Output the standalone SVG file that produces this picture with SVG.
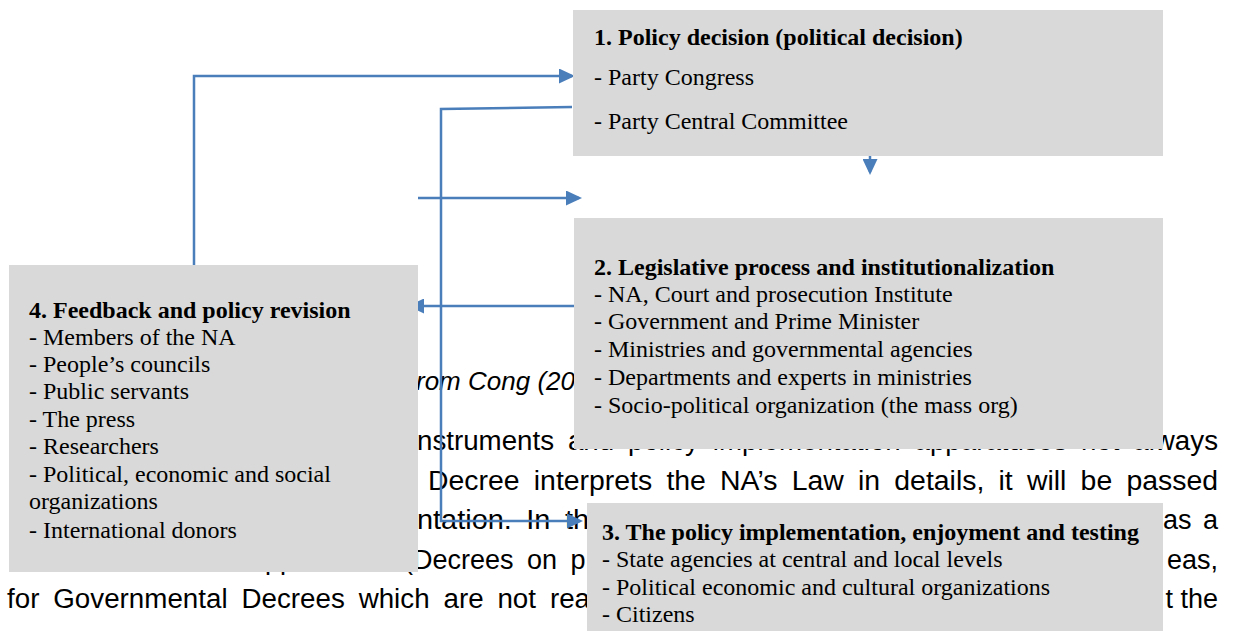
<svg xmlns="http://www.w3.org/2000/svg" width="1235" height="631" viewBox="0 0 1235 631">
  <style>
    .doc { font-family: "Liberation Sans", Arial, sans-serif; font-size: 27px; fill: #000; }
    .cap { font-style: italic; font-size: 26px; }
    .box { fill: #d9d9d9; }
    .bt { font-family: "Liberation Serif", "Times New Roman", serif; font-size: 24px; fill: #000; }
    .hd { font-weight: bold; }
    .conn { fill: none; stroke: #4a7ebb; stroke-width: 2.5; marker-end: url(#arrow); }
  </style>
  <defs>
    <marker id="arrow" viewBox="0 0 16 15" refX="13" refY="7.5" markerWidth="16" markerHeight="15" markerUnits="userSpaceOnUse" orient="auto">
      <path d="M0,0 L16,7.5 L0,15 z" fill="#4a7ebb"/>
    </marker>
  </defs>

  <!-- running page text behind the figure -->
  <g id="page-text" class="doc">
    <text class="cap" x="416" y="390">rom Cong (20</text>
    <text x="417" y="450" word-spacing="6" textLength="801" lengthAdjust="spacingAndGlyphs">nstruments and policy implementation apparatuses not always</text>
    <text x="428" y="490" word-spacing="6" textLength="790" lengthAdjust="spacingAndGlyphs">Decree interprets the NA’s Law in details, it will be passed</text>
    <text x="417" y="529" word-spacing="6" textLength="172" lengthAdjust="spacingAndGlyphs">ntation. In th</text>
    <text x="1218" y="529" text-anchor="end" word-spacing="4">as a</text>
    <text y="569" word-spacing="6"><tspan x="250">apparatuses</tspan><tspan x="404">(Decrees on p</tspan></text>
    <text x="1218" y="569" text-anchor="end">eas,</text>
    <text x="7" y="608" word-spacing="6" textLength="583" lengthAdjust="spacingAndGlyphs">for Governmental Decrees which are not rea</text>
    <text x="1218" y="608" text-anchor="end">t the</text>
  </g>

  <!-- connectors -->
  <g id="connectors">
    <path class="conn" d="M194,267 V76 H572"/>
    <path class="conn" d="M572,107 L441,109 V521 H580"/>
    <path class="conn" d="M418,198 H579"/>
    <path class="conn" d="M574,306 H411"/>
    <path class="conn" d="M870,150 V172"/>
  </g>

  <!-- 1. policy decision -->
  <g id="node-policy-decision">
    <rect class="box" x="573" y="10" width="590" height="146"/>
    <text class="bt hd" x="594" y="45">1. Policy decision (political decision)</text>
    <text class="bt" x="594" y="85">- Party Congress</text>
    <text class="bt" x="594" y="129">- Party Central Committee</text>
  </g>

  <!-- 2. legislative process -->
  <g id="node-legislative">
    <rect class="box" x="574" y="218" width="589" height="231"/>
    <text class="bt hd" x="594" y="275">2. Legislative process and institutionalization</text>
    <text class="bt" x="594" y="302">- NA, Court and prosecution Institute</text>
    <text class="bt" x="594" y="329">- Government and Prime Minister</text>
    <text class="bt" x="594" y="357">- Ministries and governmental agencies</text>
    <text class="bt" x="594" y="385">- Departments and experts in ministries</text>
    <text class="bt" x="594" y="413">- Socio-political organization (the mass org)</text>
  </g>

  <!-- 4. feedback and revision -->
  <g id="node-feedback">
    <rect class="box" x="9" y="265" width="409" height="307"/>
    <text class="bt hd" x="29" y="318">4. Feedback and policy revision</text>
    <text class="bt" x="29" y="345">- Members of the NA</text>
    <text class="bt" x="29" y="372">- People’s councils</text>
    <text class="bt" x="29" y="399">- Public servants</text>
    <text class="bt" x="29" y="427">- The press</text>
    <text class="bt" x="29" y="454">- Researchers</text>
    <text class="bt" x="29" y="482">- Political, economic and social</text>
    <text class="bt" x="29" y="509">organizations</text>
    <text class="bt" x="29" y="538">- International donors</text>
  </g>

  <!-- 3. implementation -->
  <g id="node-implementation">
    <rect class="box" x="587" y="503" width="576" height="128"/>
    <text class="bt hd" x="602" y="540">3. The policy implementation, enjoyment and testing</text>
    <text class="bt" x="602" y="567">- State agencies at central and local levels</text>
    <text class="bt" x="602" y="595">- Political economic and cultural organizations</text>
    <text class="bt" x="602" y="622">- Citizens</text>
  </g>
</svg>
